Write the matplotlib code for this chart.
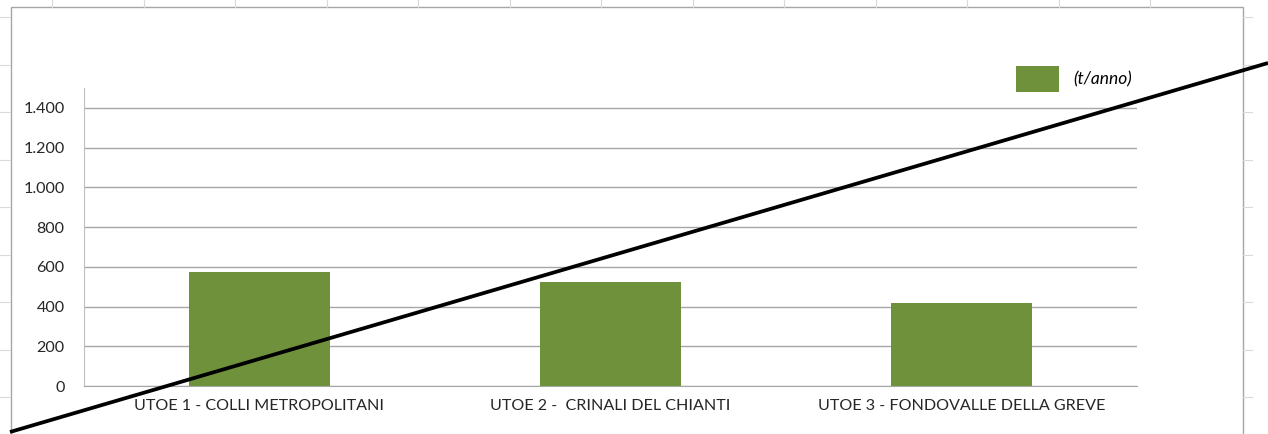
import matplotlib
matplotlib.use("Agg")
import matplotlib.pyplot as plt
from matplotlib.patches import Rectangle, Patch
from matplotlib.lines import Line2D

plt.rcParams['font.family'] = ['Lato', 'DejaVu Sans']

categories = ['UTOE 1 - COLLI METROPOLITANI', 'UTOE 2 -  CRINALI DEL CHIANTI',
              'UTOE 3 - FONDOVALLE DELLA GREVE']
values = [575, 525, 420]
series_label = '(t/anno)'
yticks = [0, 200, 400, 600, 800, 1000, 1200, 1400]
ytick_labels = ['0', '200', '400', '600', '800', '1.000', '1.200', '1.400']

W, H = 1268, 434
fig = plt.figure(figsize=(W / 100, H / 100), dpi=100)

def fx(px):
    return px / W

def fy(py):
    return 1 - py / H

# faint spreadsheet cells behind the chart
for k in range(13):
    x = 52 + 91.5 * k
    fig.add_artist(Line2D([fx(x), fx(x)], [fy(0), fy(7)], color='#d9d9d9', lw=0.8))
for k in range(-2, 7):
    y = 112 + 47.5 * k
    fig.add_artist(Line2D([fx(0), fx(10)], [fy(y), fy(y)], color='#d9d9d9', lw=0.8))
    fig.add_artist(Line2D([fx(1243), fx(1252)], [fy(y), fy(y)], color='#d9d9d9', lw=0.8))

# chart frame
fig.add_artist(Rectangle((fx(11), fy(440)), fx(1243) - fx(11), fy(7) - fy(440),
                         transform=fig.transFigure, fill=False,
                         edgecolor='#a6a6a6', lw=1.0))

ax = fig.add_axes([fx(84), fy(386), fx(1137) - fx(84), fy(88) - fy(386)])
x = range(len(categories))
bars = ax.bar(x, values, width=0.4, color='#70913c', label=series_label, zorder=3)

ax.set_xlim(-0.5, 2.5)
ax.set_ylim(0, 1500)
ax.set_yticks(yticks)
ax.set_yticklabels(ytick_labels)
ax.set_xticks(list(x))
ax.set_xticklabels(categories)
ax.tick_params(length=0, labelsize=11.6, labelcolor='#262626')
ax.tick_params(axis='y', pad=14)
ax.tick_params(axis='x', pad=9)
ax.yaxis.grid(True, color='#a6a6a6', lw=1.0, zorder=0)
for s in ['top', 'right']:
    ax.spines[s].set_visible(False)
ax.spines['left'].set_color('#bfbfbf')
ax.spines['bottom'].set_color('#a6a6a6')

fig.legend(handles=[Patch(facecolor='#70913c', label=series_label)],
           loc='center left', bbox_to_anchor=(fx(1000), fy(79)),
           frameon=False, handlelength=2.5, handleheight=1.9,
           handletextpad=0.8, prop={'style': 'italic', 'size': 12.5})

# strike-through line drawn over the chart
fig.add_artist(Line2D([fx(10), fx(1268)], [fy(432), fy(63)], color='black',
                      lw=2.7, solid_capstyle='butt'))

fig.savefig('out.png', dpi=100, facecolor='white')
